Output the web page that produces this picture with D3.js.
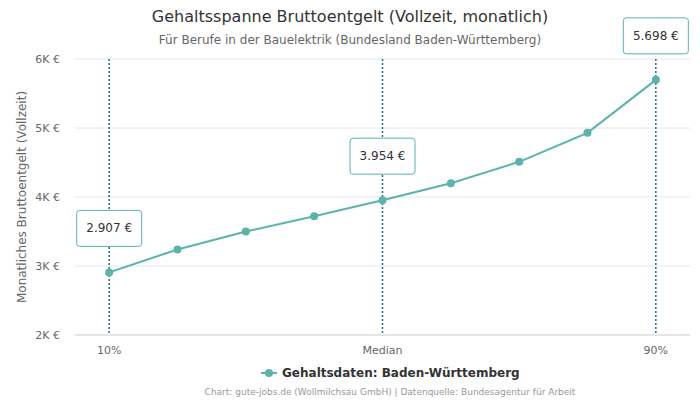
<!DOCTYPE html>
<html><head><meta charset="utf-8">
<script src="https://cdn.jsdelivr.net/npm/d3@7"></script>
<style>body{margin:0;background:#fff;font-family:"DejaVu Sans",sans-serif}</style>
</head><body><svg id="c" width="700" height="400"></svg>
<script>
const categories=["10%","","","","Median","","","","90%"];
const values=[2907,3240,3500,3720,3954,4200,4510,4930,5698];
const yTicks=[2000,3000,4000,5000,6000];
const yTickLabels=["2K €","3K €","4K €","5K €","6K €"];
const markers=[{i:0,label:"2.907 €"},{i:4,label:"3.954 €"},{i:8,label:"5.698 €"}];
const color="#5ab4ac", lineC="#1f6f8b";
const svg=d3.select("#c");
const x=d3.scalePoint().domain(d3.range(values.length)).range([75,690]).padding(0.5);
const y=d3.scaleLinear().domain([2000,6000]).range([335,59]);
svg.append("text").attr("x",350).attr("y",22).attr("text-anchor","middle").attr("font-size",16).attr("fill","#333").text("Gehaltsspanne Bruttoentgelt (Vollzeit, monatlich)");
svg.append("text").attr("x",350).attr("y",44).attr("text-anchor","middle").attr("font-size",12).attr("fill","#666").text("Für Berufe in der Bauelektrik (Bundesland Baden-Württemberg)");
yTicks.forEach((t,k)=>{
 svg.append("line").attr("x1",75).attr("x2",690).attr("y1",y(t)).attr("y2",y(t)).attr("stroke",k==0?"#ccc":"#e6e6e6");
 svg.append("text").attr("x",60).attr("y",y(t)+4).attr("text-anchor","end").attr("font-size",11).attr("fill","#666").text(yTickLabels[k]);
});
categories.forEach((c,i)=>{ if(c) svg.append("text").attr("x",x(i)).attr("y",354).attr("text-anchor","middle").attr("font-size",11).attr("fill","#666").text(c);});
svg.append("text").attr("transform","translate(26,197) rotate(-90)").attr("text-anchor","middle").attr("font-size",12).attr("fill","#666").text("Monatliches Bruttoentgelt (Vollzeit)");
markers.forEach(m=>svg.append("line").attr("x1",x(m.i)).attr("x2",x(m.i)).attr("y1",59).attr("y2",335).attr("stroke",lineC).attr("stroke-width",1.5).attr("stroke-dasharray","2,2"));
svg.append("path").datum(values).attr("fill","none").attr("stroke",color).attr("stroke-width",2)
 .attr("d",d3.line().x((d,i)=>x(i)).y(d=>y(d)));
svg.selectAll("circle.p").data(values).enter().append("circle").attr("cx",(d,i)=>x(i)).attr("cy",d=>y(d)).attr("r",4).attr("fill",color);
markers.forEach(m=>{
 const cx=x(m.i), cy=y(values[m.i])-44;
 svg.append("rect").attr("x",cx-32.5).attr("y",cy-18).attr("width",65).attr("height",36).attr("rx",3).attr("fill","#fff").attr("stroke",color);
 svg.append("text").attr("x",cx).attr("y",cy+4).attr("text-anchor","middle").attr("font-size",12).attr("fill","#333").text(m.label);
});
svg.append("line").attr("x1",261).attr("x2",277).attr("y1",373).attr("y2",373).attr("stroke",color).attr("stroke-width",2);
svg.append("circle").attr("cx",269).attr("cy",373).attr("r",4).attr("fill",color);
svg.append("text").attr("x",282).attr("y",377).attr("font-size",12).attr("font-weight","bold").attr("fill","#333").text("Gehaltsdaten: Baden-Württemberg");
svg.append("text").attr("x",390).attr("y",395).attr("text-anchor","middle").attr("font-size",9).attr("fill","#999").text("Chart: gute-jobs.de (Wollmilchsau GmbH) | Datenquelle: Bundesagentur für Arbeit");
</script></body></html>
